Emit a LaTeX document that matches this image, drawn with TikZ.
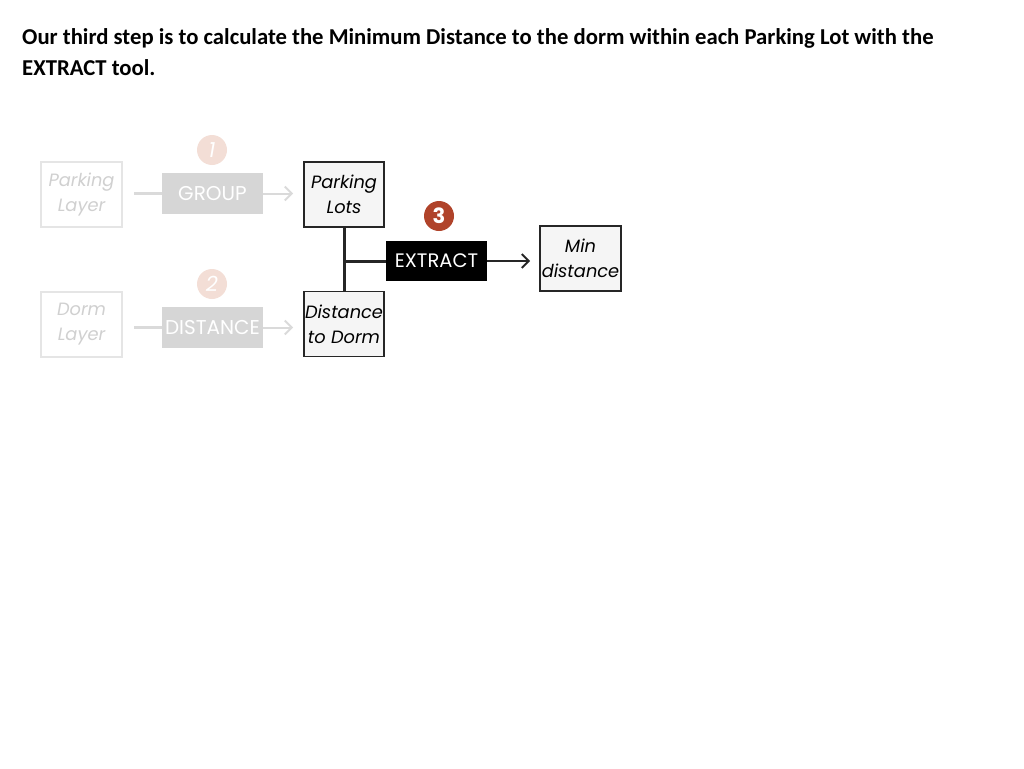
\documentclass[tikz,border=0pt]{standalone}
\usepackage{fontspec}
\setmainfont{Carlito}
\newfontfamily\diagfont{Poppins}
\usetikzlibrary{arrows.meta}
\definecolor{rust}{HTML}{B0432A}
\definecolor{fadecirc}{HTML}{F3DED6}
\definecolor{fadebox}{HTML}{D6D6D6}
\definecolor{fadeline}{HTML}{DADADA}
\definecolor{fadetext}{HTML}{D0D0D0}
\definecolor{boxfill}{HTML}{F5F5F5}
\tikzset{
  x=1pt,y=-1pt,
  databox/.style={draw=black!85,line width=1.6pt,fill=boxfill,minimum width=80pt,minimum height=65pt,inner sep=0pt,align=center,font=\diagfont\itshape\fontsize{17.8}{25}\selectfont},
  fadedata/.style={draw=black!10,line width=1.2pt,fill=white,minimum width=81pt,minimum height=65pt,inner sep=0pt,align=center,text=fadetext,font=\diagfont\itshape\fontsize{17.8}{25}\selectfont},
  toolbox/.style={fill=black,text=white,minimum width=101pt,minimum height=40pt,inner sep=0pt,font=\diagfont\fontsize{19.5}{22}\selectfont},
  fadetool/.style={fill=fadebox,text=white,minimum width=101pt,minimum height=41pt,inner sep=0pt,font=\diagfont\fontsize{20}{22}\selectfont},
  stepnum/.style={circle,fill=rust,text=white,minimum size=30pt,inner sep=0pt,font=\diagfont\bfseries\fontsize{21}{22}\selectfont},
  fadenum/.style={circle,fill=fadecirc,text=white,minimum size=30pt,inner sep=0pt,font=\diagfont\itshape\fontsize{21}{22}\selectfont},
  conn/.style={line width=3pt,black!85},
  arr/.style={line width=2pt,black!85,-{Straight Barb[length=7pt,width=14pt,line width=2pt]}},
  fadeconn/.style={line width=2.5pt,fadeline},
  fadearr/.style={line width=2pt,fadeline,-{Straight Barb[length=7pt,width=14pt,line width=2pt]}}
}
\begin{document}
\begin{tikzpicture}
\useasboundingbox (0,0) rectangle (1024,768);
\node[anchor=base west,inner sep=0pt,font=\bfseries\fontsize{22.7}{30}\selectfont] (t1) at (22,45) {Our third step is to calculate the Minimum Distance to the dorm within each Parking Lot with the};
\node[anchor=base west,inner sep=0pt,font=\bfseries\fontsize{22.7}{30}\selectfont] (t2) at (22,75) {EXTRACT tool.};

% faded left part
\node[fadedata] (play) at (81.5,194.5) {Parking\\Layer};
\node[fadedata] (dlay) at (81.5,324.5) {Dorm\\Layer};
\node[fadetool] (group) at (212.5,193.5) {GROUP};
\node[fadetool] (dist) at (212.5,327.5) {DISTANCE};
\node[fadenum] (n1) at (212,150) {1};
\node[fadenum] (n2) at (212,284) {2};
\coordinate (g0) at (134,193.5);
\coordinate (d0) at (134,327.5);

% main boxes
\node[databox] (plots) at (344,194.5) {Parking\\Lots};
\node[databox] (dtd) at (344,324) {Distance\\to Dorm};
\node[toolbox] (extract) at (436.5,261) {EXTRACT};
\node[stepnum] (n3) at (439,216) {3};
\node[databox,minimum width=81pt] (mind) at (580.5,258.5) {Min\\distance};

\draw[fadeconn] (g0) -- (group.west);
\draw[fadearr] (group.east) -- ++(30,0) coordinate (ga);
\draw[fadeconn] (d0) -- (dist.west);
\draw[fadearr] (dist.east) -- ++(30,0) coordinate (da);

\draw[conn] (plots.south) -- (dtd.north);
\coordinate (junc) at (plots.south |- extract.west);
\draw[conn] (junc) -- (extract.west);
\draw[arr] (extract.east) -- ++(43,0) coordinate (ea);
\end{tikzpicture}
\end{document}
